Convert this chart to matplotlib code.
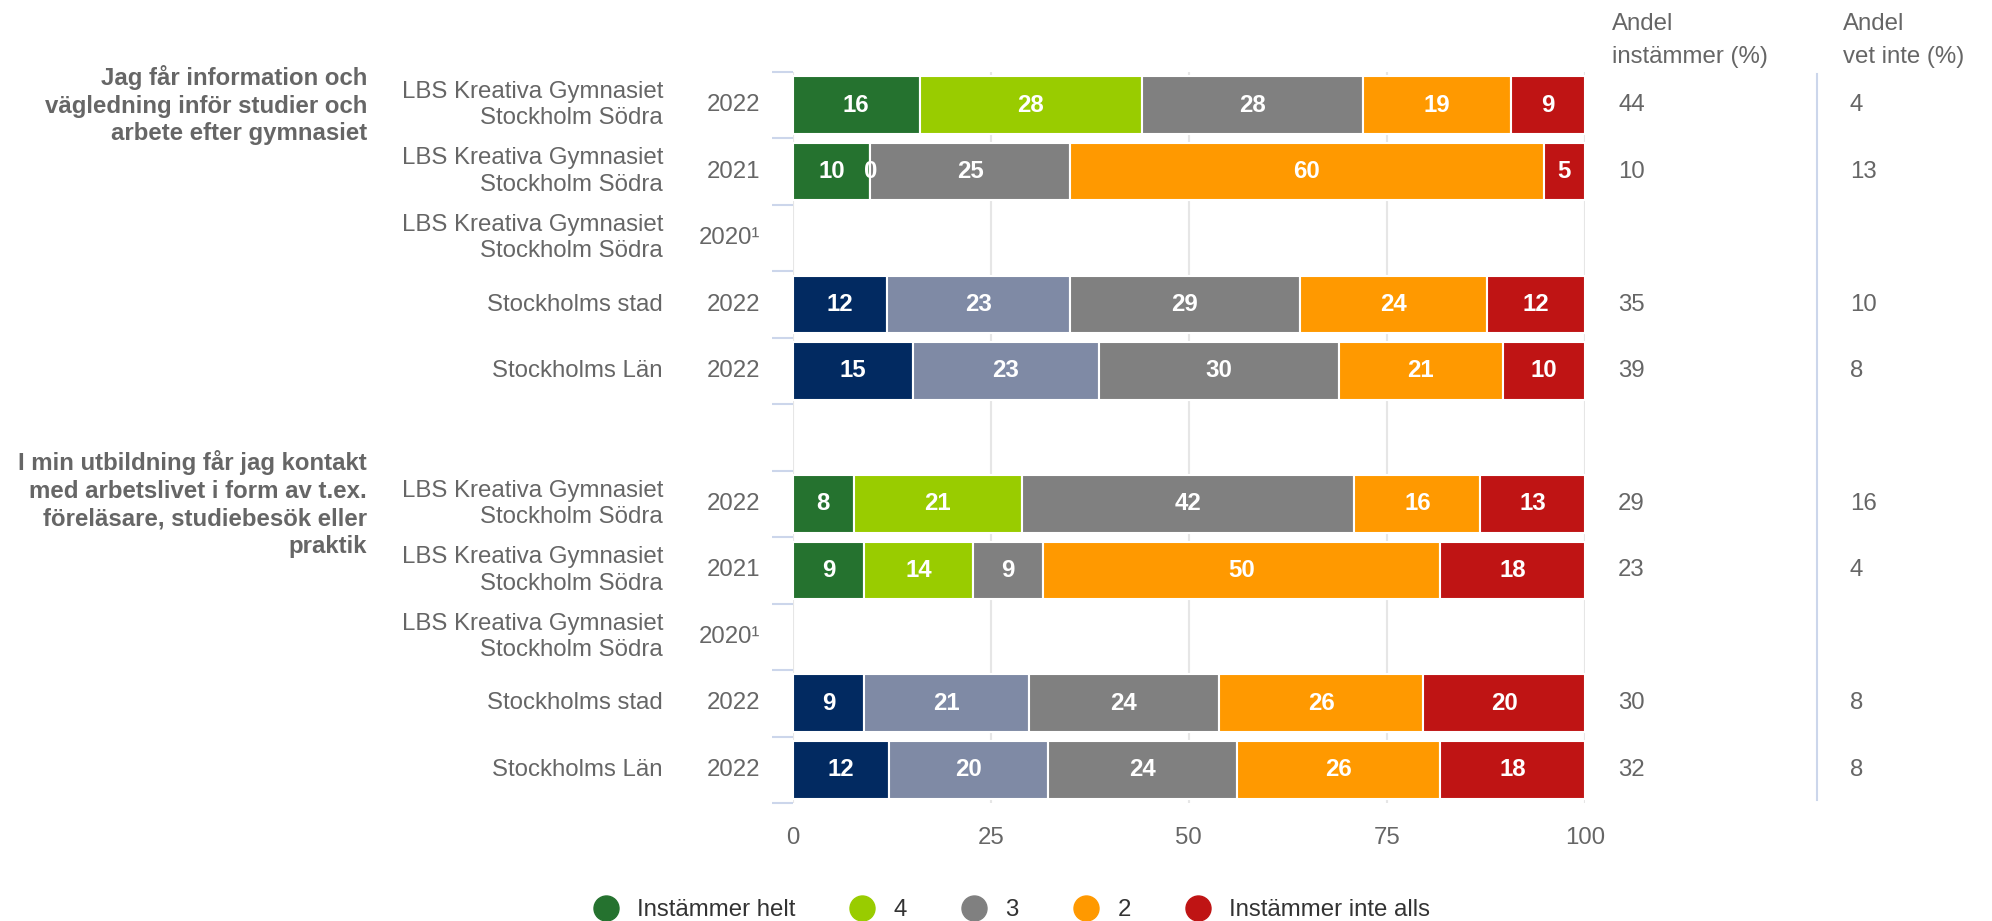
"""Stacked survey bars: studie- och yrkesvägledning, LBS Kreativa Gymnasiet Stockholm Södra."""

import matplotlib

matplotlib.use("Agg")

import matplotlib.pyplot as plt
import numpy as np
from matplotlib.lines import Line2D
from matplotlib.transforms import blended_transform_factory

plt.rcParams["font.family"] = ["Liberation Sans", "DejaVu Sans"]

# --- data -------------------------------------------------------------------
questions = [
    "Jag får information och\nvägledning inför studier och\narbete efter gymnasiet",
    "I min utbildning får jag kontakt\nmed arbetslivet i form av t.ex.\nföreläsare, studiebesök eller\npraktik",
]
units = [
    "LBS Kreativa Gymnasiet\nStockholm Södra",
    "LBS Kreativa Gymnasiet\nStockholm Södra",
    "LBS Kreativa Gymnasiet\nStockholm Södra",
    "Stockholms stad",
    "Stockholms Län",
]
years = ["2022", "2021", "2020¹", "2022", "2022"]
is_school = [True, True, True, False, False]

series_names = ["Instämmer helt", "4", "3", "2", "Instämmer inte alls"]

# question 1 (NaN = no data for 2020)
q1_helt = [16.0, 9.8, np.nan, 11.9, 15.2]
q1_fyra = [28.1, 0.0, np.nan, 23.1, 23.4]
q1_tre = [27.9, 25.2, np.nan, 29.0, 30.3]
q1_tva = [18.7, 59.8, np.nan, 23.7, 20.8]
q1_inte = [9.3, 5.2, np.nan, 12.3, 10.3]
q1_andel = ["44", "10", "", "35", "39"]
q1_vet_inte = ["4", "13", "", "10", "8"]

# question 2
q2_helt = [7.7, 9.0, np.nan, 9.0, 12.2]
q2_fyra = [21.2, 13.8, np.nan, 20.8, 20.0]
q2_tre = [42.0, 8.8, np.nan, 24.0, 23.9]
q2_tva = [15.9, 50.1, np.nan, 25.8, 25.6]
q2_inte = [13.2, 18.3, np.nan, 20.4, 18.3]
q2_andel = ["29", "23", "", "30", "32"]
q2_vet_inte = ["16", "4", "", "8", "8"]

# --- styling ---------------------------------------------------------------
SCHOOL_COLORS = ["#25722f", "#99cc00", "#808080", "#ff9900", "#bf1414"]
REF_COLORS = ["#022a61", "#7f8aa5", "#808080", "#ff9900", "#bf1414"]
TEXT = "#666666"
FS = 17.3

fig = plt.figure(figsize=(19.92, 9.21), dpi=100)
ax = fig.add_axes([0.398, 0.128, 0.3976, 0.794])

blocks = [
    (questions[0], [q1_helt, q1_fyra, q1_tre, q1_tva, q1_inte], q1_andel, q1_vet_inte),
    (questions[1], [q2_helt, q2_fyra, q2_tre, q2_tva, q2_inte], q2_andel, q2_vet_inte),
]

fig_y = blended_transform_factory(fig.transFigure, ax.transData)

row = 0
for question, series, andel, vet_inte in blocks:
    fig.text(0.1842, row, question, transform=fig_y, ha="right", va="center",
             fontsize=FS, fontweight="bold", color=TEXT, linespacing=1.25)
    for i in range(len(units)):
        y = row + i
        colors = SCHOOL_COLORS if is_school[i] else REF_COLORS
        left = 0.0
        for s, vals in enumerate(series):
            v = vals[i]
            if np.isnan(v):
                continue
            ax.barh(y, v, left=left, height=0.87, color=colors[s],
                    edgecolor="white", linewidth=1.5, zorder=2)
            ax.text(left + v / 2, y, f"{int(round(v))}", ha="center", va="center",
                    fontsize=FS, fontweight="bold", color="white", zorder=3)
            left += v
        fig.text(0.3328, y, units[i], transform=fig_y, ha="right", va="center",
                 fontsize=FS, color=TEXT, linespacing=1.25)
        fig.text(0.3815, y, years[i], transform=fig_y, ha="right", va="center",
                 fontsize=FS, color=TEXT)
        fig.text(0.8123, y, andel[i], transform=fig_y, ha="left", va="center",
                 fontsize=FS, color=TEXT)
        fig.text(0.9287, y, vet_inte[i], transform=fig_y, ha="left", va="center",
                 fontsize=FS, color=TEXT)
    row += len(units) + 1

n_rows = row - 1
ax.set_ylim(n_rows - 0.5, -0.5)
ax.set_xlim(0, 100)
ax.set_xticks([0, 25, 50, 75, 100])
ax.tick_params(axis="x", length=0, pad=17, labelsize=FS, labelcolor=TEXT)
ax.set_yticks([])
ax.set_yticks(np.arange(-0.5, n_rows, 1.0), minor=True)
ax.tick_params(axis="y", which="minor", length=15, width=1.5, color="#ccd6eb",
               labelleft=False)
ax.grid(axis="x", color="#e6e6e6", linewidth=1.5)
ax.set_axisbelow(True)
for spine in ax.spines.values():
    spine.set_visible(False)

# column headers and separator on the right
fig.text(0.8092, 0.986, "Andel\ninstämmer (%)", ha="left", va="top",
         fontsize=FS, color=TEXT, linespacing=1.65)
fig.text(0.9252, 0.986, "Andel\nvet inte (%)", ha="left", va="top",
         fontsize=FS, color=TEXT, linespacing=1.65)
fig.add_artist(Line2D([0.9122, 0.9122], [0.9197, 0.1314], color="#ccd6eb",
                      linewidth=1.5, transform=fig.transFigure))

handles = [Line2D([], [], marker="o", linestyle="none", markersize=18,
                  markerfacecolor=c, markeredgecolor=c) for c in SCHOOL_COLORS]
fig.legend(handles, series_names, loc="center", bbox_to_anchor=(0.508, 0.012),
           ncol=5, frameon=False, fontsize=FS, labelcolor="#333333",
           handlelength=1.0, handletextpad=0.8, columnspacing=2.3)

fig.savefig("out.png", dpi=100)
